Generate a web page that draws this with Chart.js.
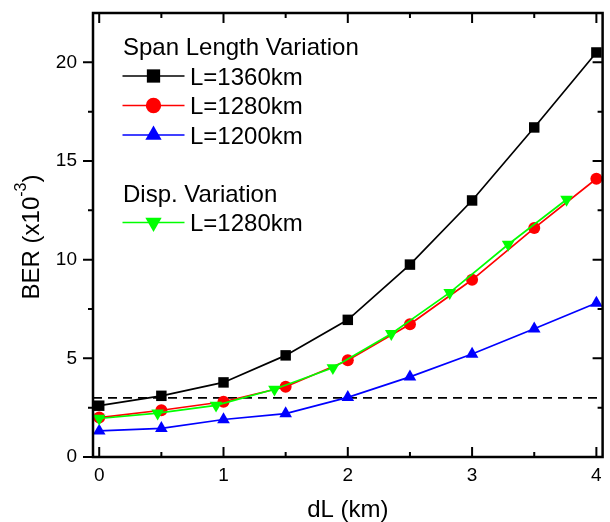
<!DOCTYPE html>
<html>
<head>
<meta charset="utf-8">
<script src="https://cdn.jsdelivr.net/npm/chart.js@4/dist/chart.umd.min.js"></script>
<style>
  body { margin: 0; background: #fff; }
  #wrap { width: 610px; height: 522px; }
</style>
</head>
<body>
<div id="wrap"><canvas id="berChart" width="610" height="522"></canvas></div>
<script>
// dL offsets (km) and BER values (x10^-3)
const dL = [0, 0.5, 1, 1.5, 2, 2.5, 3, 3.5, 4];
const ber1360 = [2.6, 3.1, 3.78, 5.15, 6.95, 9.75, 13.0, 16.7, 20.5];
const ber1280 = [2.0, 2.37, 2.8, 3.56, 4.9, 6.73, 8.98, 11.6, 14.1];
const ber1200 = [1.32, 1.45, 1.9, 2.2, 3.02, 4.06, 5.22, 6.5, 7.8];

// dispersion variation sweep, L=1280km
const dLDisp = [0, 0.47, 0.94, 1.41, 1.88, 2.35, 2.82, 3.29, 3.76];
const berDisp = [1.95, 2.22, 2.62, 3.43, 4.52, 6.25, 8.33, 10.77, 13.05];

// FEC limit
const berLimit = 3;

const xTicks = [0, 1, 2, 3, 4];
const xMinor = [0.5, 1.5, 2.5, 3.5];
const yTicks = [0, 5, 10, 15, 20];
const yMinor = [2.5, 7.5, 12.5, 17.5];
const xRange = [-0.05, 4.05];
const yRange = [0, 22.5];

const FONT = '"Liberation Sans", Arial, Helvetica, sans-serif';
Chart.defaults.font.family = FONT;
Chart.defaults.color = '#000';

function pts(xs, ys) {
    return xs.map((x, i) => ({ x: x, y: ys[i] }));
}

const seriesStyle = [
    { label: 'L=1360km', color: '#000000', style: 'rect', radius: 7.4, rot: 0 },
    { label: 'L=1280km', color: '#ff0000', style: 'circle', radius: 6, rot: 0 },
    { label: 'L=1200km', color: '#0000ff', style: 'triangle', radius: 7.3, rot: 0 },
    { label: 'L=1280km', color: '#00ff00', style: 'triangle', radius: 7.3, rot: 180 }
];
const seriesData = [pts(dL, ber1360), pts(dL, ber1280), pts(dL, ber1200), pts(dLDisp, berDisp)];
const drawOrder = [1, 2, 3, 0];

const datasets = seriesStyle.map((s, i) => ({
    label: s.label,
    data: seriesData[i],
    borderColor: s.color,
    backgroundColor: s.color,
    borderWidth: 1.7,
    pointStyle: s.style,
    pointRadius: s.radius,
    pointRotation: s.rot,
    pointBorderWidth: 0,
    pointBackgroundColor: s.color,
    tension: 0,
    clip: false,
    order: drawOrder[i]
}));

// dashed limit line across the full axis
datasets.push({
    label: 'limit',
    data: pts(xRange, [berLimit, berLimit]),
    borderColor: '#000',
    borderWidth: 1.8,
    borderDash: [9, 6],
    pointRadius: 0,
    clip: false,
    order: 9
});

// frame with tick marks: outward on the left, inward elsewhere
const framePlugin = {
    id: 'frame',
    afterDatasetsDraw(chart) {
        const { ctx, chartArea: a, scales } = chart;
        const xs = scales.x, ys = scales.y;
        ctx.save();
        ctx.strokeStyle = '#000';
        ctx.lineWidth = 2.5;
        ctx.strokeRect(a.left, a.top, a.right - a.left, a.bottom - a.top);
        ctx.lineWidth = 2;
        ctx.beginPath();
        const tickX = (v, len) => {
            const px = xs.getPixelForValue(v);
            ctx.moveTo(px, a.bottom); ctx.lineTo(px, a.bottom - len);
            ctx.moveTo(px, a.top); ctx.lineTo(px, a.top + len);
        };
        const tickY = (v, len) => {
            const py = ys.getPixelForValue(v);
            ctx.moveTo(a.left, py); ctx.lineTo(a.left - len, py);
            ctx.moveTo(a.right, py); ctx.lineTo(a.right - len, py);
        };
        xTicks.forEach(v => tickX(v, 10));
        xMinor.forEach(v => tickX(v, 5));
        yTicks.forEach(v => tickY(v, 10));
        yMinor.forEach(v => tickY(v, 5));
        ctx.stroke();
        ctx.restore();
    },
    afterDraw(chart) {
        const { ctx, chartArea: a } = chart;
        ctx.save();
        ctx.fillStyle = '#000';

        // x axis title
        ctx.font = '24px ' + FONT;
        ctx.textAlign = 'center';
        ctx.textBaseline = 'alphabetic';
        ctx.fillText('dL (km)', (a.left + a.right) / 2, 517);

        // y axis title with superscript
        ctx.save();
        ctx.translate(39, (a.top + a.bottom) / 2 + 2);
        ctx.rotate(-Math.PI / 2);
        ctx.textAlign = 'left';
        const main = 'BER (x10', sup = '-3', close = ')';
        ctx.font = '24px ' + FONT;
        const w1 = ctx.measureText(main).width;
        const w3 = ctx.measureText(close).width;
        ctx.font = '16px ' + FONT;
        const w2 = ctx.measureText(sup).width;
        let x0 = -(w1 + w2 + w3) / 2;
        ctx.font = '24px ' + FONT;
        ctx.fillText(main, x0, 0);
        ctx.font = '16px ' + FONT;
        ctx.fillText(sup, x0 + w1, -13);
        ctx.font = '24px ' + FONT;
        ctx.fillText(close, x0 + w1 + w2, 0);
        ctx.restore();

        // legend
        ctx.font = '24px ' + FONT;
        ctx.textAlign = 'left';
        ctx.fillText('Span Length Variation', 123, 55);
        ctx.fillText('Disp. Variation', 123, 202);
        const rows = [76, 105.5, 135, 222.5];
        const legendRadius = [9.4, 7.7, 9.4, 9.4];
        seriesStyle.forEach((s, i) => {
            const y = rows[i];
            ctx.strokeStyle = s.color;
            ctx.fillStyle = s.color;
            ctx.lineWidth = 1.7;
            ctx.beginPath();
            ctx.moveTo(122.5, y);
            ctx.lineTo(184.5, y);
            ctx.stroke();
            Chart.helpers.drawPoint(ctx, {
                pointStyle: s.style, radius: legendRadius[i], rotation: s.rot, borderWidth: 0
            }, 153.5, y);
            ctx.fillStyle = '#000';
            ctx.fillText(s.label, 190, y + 8.5);
        });
        ctx.restore();
    }
};

new Chart(document.getElementById('berChart'), {
    type: 'line',
    data: { datasets: datasets },
    options: {
        responsive: false,
        animation: false,
        events: [],
        layout: { padding: { top: 13, right: 2, left: 0, bottom: 0 } },
        plugins: { legend: { display: false }, tooltip: { enabled: false } },
        scales: {
            x: {
                type: 'linear',
                min: xRange[0],
                max: xRange[1],
                afterBuildTicks: s => { s.ticks = xTicks.map(v => ({ value: v })); },
                afterFit: s => { s.height = 65; s.paddingLeft = 0; s.paddingRight = 0; },
                grid: { display: false, drawTicks: false },
                border: { display: false },
                ticks: { font: { size: 19 }, padding: 7, maxRotation: 0 }
            },
            y: {
                type: 'linear',
                min: yRange[0],
                max: yRange[1],
                afterBuildTicks: s => { s.ticks = yTicks.map(v => ({ value: v })); },
                afterFit: s => { s.width = 93; s.paddingTop = 0; s.paddingBottom = 0; },
                grid: { display: false, drawTicks: false },
                border: { display: false },
                ticks: { font: { size: 19 }, padding: 16 }
            }
        }
    },
    plugins: [framePlugin]
});
</script>
</body>
</html>
